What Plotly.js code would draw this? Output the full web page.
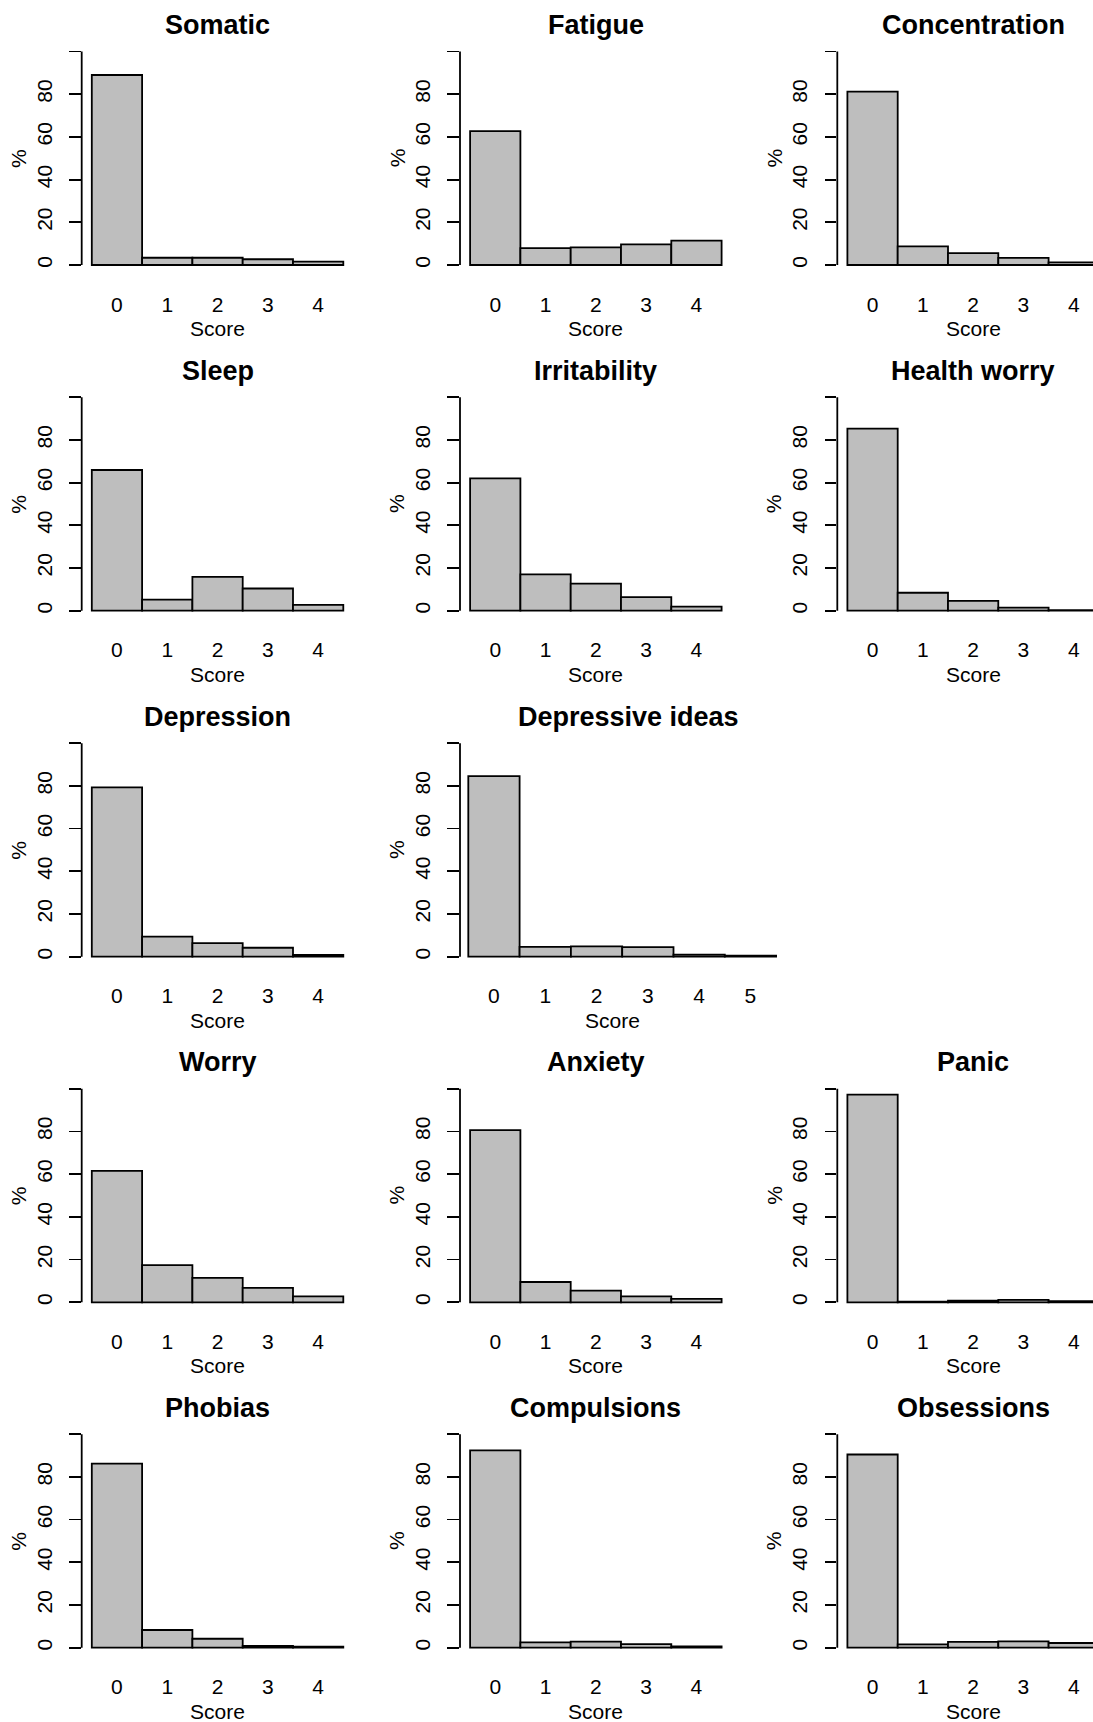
<!DOCTYPE html>
<html>
<head>
<meta charset="utf-8">
<script src="https://cdn.plot.ly/plotly-3.0.1.min.js"></script>
<style>
  html, body { margin: 0; padding: 0; background: #ffffff; }
  #chart { width: 1093px; height: 1722px; }
</style>
</head>
<body>
<div id="chart"></div>
<script>
// Score values on the x axis
const scores5 = [0, 1, 2, 3, 4];
const scores6 = [0, 1, 2, 3, 4, 5];

// Percentage of respondents at each score, per symptom
const somatic        = [89.0, 3.4, 3.4, 2.7, 1.6];
const fatigue        = [62.7, 7.9, 8.3, 9.7, 11.4];
const concentration  = [81.2, 8.7, 5.6, 3.3, 1.2];
const sleep          = [65.9, 5.2, 15.8, 10.4, 2.7];
const irritability   = [62.0, 17.0, 12.7, 6.4, 1.9];
const healthWorry    = [85.3, 8.4, 4.6, 1.4, 0.3];
const depression     = [79.3, 9.4, 6.4, 4.2, 0.8];
const depressiveIdeas = [84.6, 4.6, 4.8, 4.5, 1.0, 0.5];
const worry          = [61.6, 17.4, 11.4, 6.8, 2.8];
const anxiety        = [80.6, 9.5, 5.5, 2.8, 1.6];
const panic          = [97.3, 0.3, 0.8, 1.1, 0.5];
const phobias        = [86.2, 8.3, 4.2, 0.9, 0.5];
const compulsions    = [92.4, 2.5, 2.8, 1.7, 0.6];
const obsessions     = [90.5, 1.6, 2.7, 3.0, 2.2];

// Y tick values and labels (the top tick carries no label)
const yTickVals = [0, 20, 40, 60, 80, 100];
const yTickText = ['0', '20', '40', '60', '80', ''];

const xLabel = 'Score';
const yLabel = '%';

// Panel list: title, data and grid cell (row, col)
const panels = [
  { title: 'Somatic',          x: scores5, y: somatic,         row: 0, col: 0 },
  { title: 'Fatigue',          x: scores5, y: fatigue,         row: 0, col: 1 },
  { title: 'Concentration',    x: scores5, y: concentration,   row: 0, col: 2 },
  { title: 'Sleep',            x: scores5, y: sleep,           row: 1, col: 0 },
  { title: 'Irritability',     x: scores5, y: irritability,    row: 1, col: 1 },
  { title: 'Health worry',     x: scores5, y: healthWorry,     row: 1, col: 2 },
  { title: 'Depression',       x: scores5, y: depression,      row: 2, col: 0 },
  { title: 'Depressive ideas', x: scores6, y: depressiveIdeas, row: 2, col: 1, wide: true },
  { title: 'Worry',            x: scores5, y: worry,           row: 3, col: 0 },
  { title: 'Anxiety',          x: scores5, y: anxiety,         row: 3, col: 1 },
  { title: 'Panic',            x: scores5, y: panic,           row: 3, col: 2 },
  { title: 'Phobias',          x: scores5, y: phobias,         row: 4, col: 0 },
  { title: 'Compulsions',      x: scores5, y: compulsions,     row: 4, col: 1 },
  { title: 'Obsessions',       x: scores5, y: obsessions,      row: 4, col: 2 }
];

// ---- page geometry (pixels) ----
const W = 1093, H = 1722;
const axisX = [81.7, 460, 837.3];                  // left edge of each column's plot area
const zeroY = [265, 610.7, 956.7, 1302.3, 1647.7]; // pixel row of y = 0 in each row
const pxPerPct = 2.135;                            // vertical pixels per percentage point
const yMin = -4, yMax = 104;

const FONT = 'Liberation Sans, Arial, Helvetica, sans-serif';
const BAR_FILL = '#bebebe';
const LINE_W = 1.8;

const traces = [];
const layout = {
  width: W, height: H,
  margin: { l: 0, r: 0, t: 0, b: 0 },
  paper_bgcolor: '#ffffff',
  plot_bgcolor: 'rgba(0,0,0,0)',
  showlegend: false,
  bargap: 0,
  font: { family: FONT, size: 21, color: '#000000' },
  annotations: [],
  shapes: []
};

panels.forEach((p, i) => {
  const k = i + 1;
  const xa = k === 1 ? 'x' : 'x' + k;
  const ya = k === 1 ? 'y' : 'y' + k;
  const xKey = k === 1 ? 'xaxis' : 'xaxis' + k;
  const yKey = k === 1 ? 'yaxis' : 'yaxis' + k;

  const barW = p.wide ? 51.3 : 50.3;   // pixels per score unit
  const lead = p.wide ? 8.3 : 10.1;    // gap between axis and first bar
  const fullW = p.wide ? 336 : 5.4 * barW;

  const left = axisX[p.col];
  const right = Math.min(W, left + fullW);
  const xStart = -0.5 - lead / barW;
  const xEnd = xStart + (right - left) / barW;

  const z = zeroY[p.row];
  const bottomPx = z - yMin * pxPerPct;
  const topPx = z - yMax * pxPerPct;

  traces.push({
    type: 'bar',
    x: p.x,
    y: p.y,
    width: 1,
    xaxis: xa,
    yaxis: ya,
    marker: { color: BAR_FILL, line: { color: '#000000', width: LINE_W } },
    hoverinfo: 'skip'
  });

  layout[xKey] = {
    domain: [left / W, right / W],
    range: [xStart, xEnd],
    anchor: ya,
    showgrid: false, zeroline: false, showline: false,
    ticks: '',
    tickmode: 'array',
    tickvals: p.x,
    ticktext: p.x.map(String),
    tickfont: { family: FONT, size: 21, color: '#000000' },
    ticklabelstandoff: 16,
    fixedrange: true
  };

  layout[yKey] = {
    domain: [1 - bottomPx / H, 1 - topPx / H],
    range: [yMin, yMax],
    anchor: xa,
    showgrid: false, zeroline: false, showline: false,
    ticks: 'outside', ticklen: 11.7, tickwidth: LINE_W, tickcolor: '#000000',
    tickmode: 'array',
    tickvals: yTickVals,
    ticktext: yTickText,
    tickangle: -90,
    tickfont: { family: FONT, size: 21, color: '#000000' },
    ticklabelstandoff: 9,
    fixedrange: true
  };

  // y axis line running from the first to the last tick
  layout.shapes.push({
    type: 'line', xref: xa + ' domain', yref: ya,
    x0: 0, x1: 0, y0: 0, y1: 100,
    line: { color: '#000000', width: LINE_W }
  });

  const centerPx = p.wide ? 628 : left + 5.4 * barW / 2;
  const scorePx = p.wide ? 612 : centerPx;

  // panel title
  layout.annotations.push({
    xref: 'paper', yref: 'paper',
    x: centerPx / W, y: 1 - (z - 240) / H,
    xanchor: 'center', yanchor: 'middle',
    text: p.title, showarrow: false,
    font: { family: FONT, size: 27, color: '#000000', weight: 700 }
  });
  // x axis label
  layout.annotations.push({
    xref: 'paper', yref: 'paper',
    x: scorePx / W, y: 1 - (z + 63.5) / H,
    xanchor: 'center', yanchor: 'middle',
    text: xLabel, showarrow: false,
    font: { family: FONT, size: 21, color: '#000000' }
  });
  // y axis label
  layout.annotations.push({
    xref: 'paper', yref: 'paper',
    x: (left - 63) / W, y: 1 - (z - 50 * pxPerPct) / H,
    xanchor: 'center', yanchor: 'middle',
    text: yLabel, textangle: -90, showarrow: false,
    font: { family: FONT, size: 21, color: '#000000' }
  });
});

Plotly.newPlot('chart', traces, layout, { staticPlot: true, displayModeBar: false });
</script>
</body>
</html>
